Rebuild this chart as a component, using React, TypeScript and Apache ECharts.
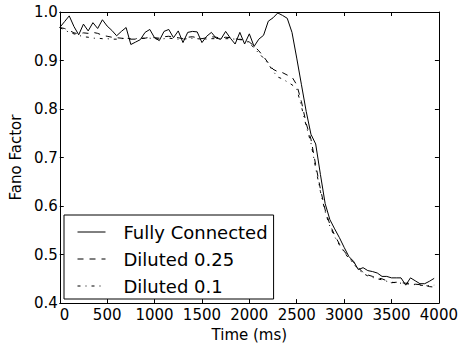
import React, { useEffect, useRef } from "react";
import * as echarts from "echarts";

const timeMs: number[] = [
  0, 50, 100, 150, 200, 250, 300, 350, 400, 450, 500, 550, 600, 650, 700, 750,
  800, 850, 900, 950, 1000, 1050, 1100, 1150, 1200, 1250, 1300, 1350, 1400, 1450,
  1500, 1550, 1600, 1650, 1700, 1750, 1800, 1850, 1900, 1950, 2000, 2050, 2100,
  2150, 2200, 2250, 2300, 2350, 2400, 2450, 2500, 2550, 2600, 2650, 2700, 2750,
  2800, 2850, 2900, 2950, 3000, 3050, 3100, 3150, 3200, 3250, 3300, 3350, 3400,
  3450, 3500, 3550, 3600, 3650, 3700, 3750, 3800, 3850, 3900, 3950,
];

const fullyConnected: number[] = [
  0.968, 0.98, 0.992, 0.97, 0.953, 0.975, 0.961, 0.978, 0.966, 0.984, 0.971, 0.962,
  0.951, 0.96, 0.968, 0.933, 0.938, 0.943, 0.958, 0.964, 0.947, 0.941, 0.96, 0.964,
  0.947, 0.961, 0.937, 0.958, 0.96, 0.959, 0.937, 0.95, 0.958, 0.946, 0.944, 0.96,
  0.946, 0.934, 0.958, 0.934, 0.955, 0.929, 0.944, 0.952, 0.981, 0.988, 0.998,
  0.993, 0.987, 0.958, 0.905, 0.85, 0.795, 0.748, 0.728, 0.665, 0.605, 0.572, 0.553,
  0.535, 0.515, 0.496, 0.486, 0.469, 0.473, 0.467, 0.465, 0.462, 0.455, 0.455,
  0.452, 0.452, 0.452, 0.437, 0.452, 0.446, 0.44, 0.44, 0.445, 0.451,
];

const diluted025: number[] = [
  0.968, 0.966, 0.962, 0.957, 0.955, 0.957, 0.956, 0.958, 0.956, 0.952, 0.95, 0.948,
  0.947, 0.946, 0.945, 0.944, 0.944, 0.945, 0.946, 0.948, 0.947, 0.946, 0.949, 0.95,
  0.948, 0.947, 0.945, 0.948, 0.949, 0.947, 0.945, 0.947, 0.949, 0.948, 0.946,
  0.948, 0.947, 0.945, 0.943, 0.942, 0.938, 0.93, 0.92, 0.908, 0.895, 0.882, 0.877,
  0.875, 0.87, 0.866, 0.85, 0.815, 0.77, 0.738, 0.685, 0.635, 0.592, 0.562, 0.54,
  0.522, 0.507, 0.495, 0.484, 0.473, 0.463, 0.458, 0.455, 0.452, 0.45, 0.446, 0.442,
  0.443, 0.442, 0.441, 0.441, 0.439, 0.438, 0.437, 0.434, 0.433,
];

const diluted01: number[] = [
  0.968, 0.963, 0.958, 0.955, 0.952, 0.949, 0.948, 0.946, 0.946, 0.945, 0.945, 0.944,
  0.944, 0.945, 0.946, 0.945, 0.945, 0.946, 0.946, 0.946, 0.945, 0.944, 0.945,
  0.946, 0.945, 0.944, 0.944, 0.945, 0.946, 0.945, 0.944, 0.944, 0.945, 0.945,
  0.944, 0.945, 0.945, 0.944, 0.944, 0.942, 0.936, 0.926, 0.915, 0.905, 0.893,
  0.878, 0.866, 0.862, 0.856, 0.85, 0.842, 0.805, 0.765, 0.73, 0.678, 0.63, 0.588,
  0.558, 0.537, 0.52, 0.505, 0.492, 0.481, 0.47, 0.461, 0.456, 0.453, 0.45, 0.448,
  0.445, 0.443, 0.442, 0.441, 0.44, 0.439, 0.438, 0.437, 0.436, 0.436, 0.437,
];

const seriesNames: string[] = ["Fully Connected", "Diluted 0.25", "Diluted 0.1"];

const FONT = "DejaVu Sans";

export default function App() {
  const ref = useRef<HTMLDivElement>(null);
  useEffect(() => {
    document.body.style.margin = "0";
    if (!ref.current) return;
    const chart = echarts.init(ref.current, undefined, { renderer: "svg" });
    const pairs = (vals: number[]) => timeMs.map((t, i) => [t, vals[i]]);
    const axisCommon = {
      axisLine: { show: true, onZero: false, lineStyle: { color: "#000", width: 1 } },
      axisTick: { show: true, inside: true, length: 4, lineStyle: { color: "#000" } },
      splitLine: { show: false },
    };
    const lineSeries = (name: string, vals: number[], type: any) => ({
      name,
      type: "line",
      data: pairs(vals),
      symbol: "none",
      showSymbol: false,
      lineStyle: { color: "#000", width: 1, type },
      itemStyle: { color: "#000" },
    });
    chart.setOption({
      animation: false,
      backgroundColor: "#fff",
      textStyle: { fontFamily: FONT },
      grid: { left: 55, top: 12, right: 20, bottom: 38, show: false },
      xAxis: [
        {
          type: "value",
          min: 0,
          max: 4000,
          interval: 500,
          position: "bottom",
          name: "Time (ms)",
          nameLocation: "middle",
          nameGap: 22,
          nameTextStyle: { fontSize: 15, color: "#000", fontFamily: FONT },
          axisLabel: {
            fontSize: 15,
            color: "#000",
            margin: 4,
            fontFamily: FONT,
            alignMinLabel: "left",
            formatter: (v: number) => String(v),
          },
          ...axisCommon,
        },
        {
          type: "value",
          min: 0,
          max: 4000,
          interval: 500,
          position: "top",
          axisLabel: { show: false },
          ...axisCommon,
        },
      ],
      yAxis: [
        {
          type: "value",
          min: 0.4,
          max: 1.0,
          interval: 0.1,
          position: "left",
          name: "Fano Factor",
          nameLocation: "middle",
          nameGap: 28,
          nameTextStyle: { fontSize: 15, color: "#000", fontFamily: FONT },
          axisLabel: {
            fontSize: 15,
            color: "#000",
            margin: 2,
            fontFamily: FONT,
            formatter: (v: number) => v.toFixed(1),
          },
          ...axisCommon,
        },
        {
          type: "value",
          min: 0.4,
          max: 1.0,
          interval: 0.1,
          position: "right",
          axisLabel: { show: false },
          ...axisCommon,
        },
      ],
      legend: {
        data: seriesNames,
        orient: "vertical",
        left: 64,
        top: 215,
        itemWidth: 28,
        itemHeight: 14,
        itemGap: 9,
        padding: [8, 6, 4, 13],
        borderColor: "#000",
        borderWidth: 1,
        backgroundColor: "#fff",
        borderRadius: 0,
        itemStyle: { color: "transparent", borderWidth: 0, opacity: 0 },
        lineStyle: { width: 1 },
        textStyle: { fontSize: 18, color: "#000", fontFamily: FONT, padding: [0, 0, 0, 13] },
      },
      series: [
        lineSeries(seriesNames[0], fullyConnected, "solid"),
        lineSeries(seriesNames[1], diluted025, [6, 6]),
        lineSeries(seriesNames[2], diluted01, [3, 5, 1, 5]),
      ],
    });
    return () => chart.dispose();
  }, []);
  return <div ref={ref} style={{ width: 461, height: 347 }} />;
}
